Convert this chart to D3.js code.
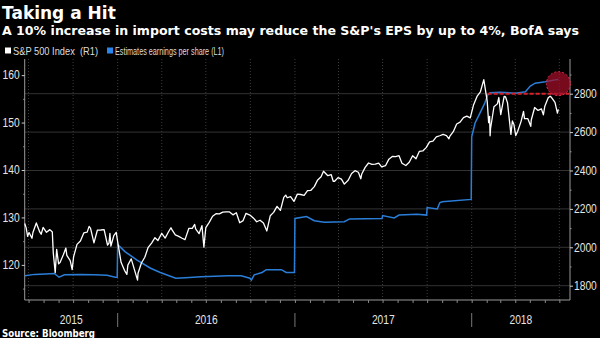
<!DOCTYPE html>
<html>
<head>
<meta charset="utf-8">
<script src="https://cdn.jsdelivr.net/npm/d3@7"></script>
<style>
  html, body { margin: 0; padding: 0; background: #000; }
  svg { display: block; }
</style>
</head>
<body>
<svg id="chart" width="600" height="338"></svg>
<script>
// S&P 500 closes (right axis)
const spx = [
  ["2015-06-23",2124],["2015-06-26",2101],["2015-06-29",2057],["2015-07-02",2077],["2015-07-08",2047],
  ["2015-07-10",2077],["2015-07-17",2127],["2015-07-24",2080],["2015-07-27",2068],["2015-07-31",2104],
  ["2015-08-07",2078],["2015-08-14",2092],["2015-08-19",2080],["2015-08-21",1971],["2015-08-25",1868],
  ["2015-08-28",1989],["2015-09-01",1914],["2015-09-04",1921],["2015-09-11",1962],["2015-09-16",1996],
  ["2015-09-18",1958],["2015-09-25",1931],["2015-09-29",1884],["2015-10-02",1951],["2015-10-09",2015],
  ["2015-10-16",2033],["2015-10-23",2075],["2015-10-30",2079],["2015-11-03",2109],["2015-11-06",2099],
  ["2015-11-13",2023],["2015-11-20",2089],["2015-11-27",2090],["2015-12-04",2092],["2015-12-11",2012],
  ["2015-12-14",2021],["2015-12-16",2073],["2015-12-18",2006],["2015-12-24",2061],["2015-12-29",2078],
  ["2015-12-31",2044],["2016-01-08",1922],["2016-01-15",1880],["2016-01-20",1859],["2016-01-22",1907],
  ["2016-01-29",1940],["2016-02-05",1880],["2016-02-11",1829],["2016-02-12",1865],["2016-02-19",1918],
  ["2016-02-26",1948],["2016-03-04",2000],["2016-03-11",2022],["2016-03-18",2050],["2016-03-24",2035],
  ["2016-04-01",2073],["2016-04-08",2048],["2016-04-15",2081],["2016-04-20",2102],["2016-04-22",2092],
  ["2016-04-29",2065],["2016-05-06",2057],["2016-05-13",2047],["2016-05-19",2040],["2016-05-27",2099],
  ["2016-06-03",2099],["2016-06-08",2119],["2016-06-10",2096],["2016-06-17",2071],["2016-06-23",2113],
  ["2016-06-27",2001],["2016-07-01",2103],["2016-07-08",2130],["2016-07-15",2162],["2016-07-22",2175],
  ["2016-07-29",2174],["2016-08-05",2183],["2016-08-12",2184],["2016-08-19",2184],["2016-08-26",2169],
  ["2016-09-02",2180],["2016-09-09",2128],["2016-09-16",2139],["2016-09-22",2177],["2016-09-30",2168],
  ["2016-10-07",2153],["2016-10-14",2133],["2016-10-21",2141],["2016-10-28",2126],["2016-11-04",2085],
  ["2016-11-11",2164],["2016-11-18",2182],["2016-11-25",2213],["2016-12-02",2192],["2016-12-09",2260],
  ["2016-12-13",2272],["2016-12-16",2258],["2016-12-23",2264],["2016-12-30",2239],["2017-01-06",2277],
  ["2017-01-13",2275],["2017-01-20",2271],["2017-01-27",2295],["2017-02-03",2297],["2017-02-10",2316],
  ["2017-02-17",2351],["2017-02-24",2367],["2017-03-01",2396],["2017-03-10",2373],["2017-03-17",2378],
  ["2017-03-21",2344],["2017-03-24",2344],["2017-03-31",2363],["2017-04-07",2355],["2017-04-13",2329],
  ["2017-04-21",2349],["2017-04-28",2384],["2017-05-05",2399],["2017-05-12",2391],["2017-05-17",2357],
  ["2017-05-19",2382],["2017-05-26",2416],["2017-06-02",2439],["2017-06-09",2432],["2017-06-16",2433],
  ["2017-06-23",2438],["2017-06-29",2419],["2017-07-07",2425],["2017-07-14",2459],["2017-07-21",2473],
  ["2017-07-28",2472],["2017-08-04",2477],["2017-08-10",2438],["2017-08-18",2426],["2017-08-25",2443],
  ["2017-09-01",2477],["2017-09-08",2461],["2017-09-15",2500],["2017-09-22",2502],["2017-09-29",2519],
  ["2017-10-06",2549],["2017-10-13",2553],["2017-10-20",2575],["2017-10-27",2581],["2017-11-03",2588],
  ["2017-11-10",2582],["2017-11-15",2565],["2017-11-17",2579],["2017-11-24",2602],["2017-12-01",2642],
  ["2017-12-08",2652],["2017-12-15",2675],["2017-12-22",2683],["2017-12-29",2674],["2018-01-05",2743],
  ["2018-01-12",2786],["2018-01-19",2810],["2018-01-26",2873],["2018-02-02",2762],["2018-02-05",2649],
  ["2018-02-07",2682],["2018-02-08",2581],["2018-02-09",2620],["2018-02-16",2732],["2018-02-23",2747],
  ["2018-02-26",2780],["2018-03-02",2691],["2018-03-09",2786],["2018-03-12",2783],["2018-03-16",2752],
  ["2018-03-23",2588],["2018-03-26",2658],["2018-03-29",2641],["2018-04-02",2582],["2018-04-06",2604],
  ["2018-04-13",2656],["2018-04-18",2708],["2018-04-20",2670],["2018-04-27",2670],["2018-05-03",2630],
  ["2018-05-04",2663],["2018-05-11",2728],["2018-05-18",2713],["2018-05-25",2721],["2018-05-29",2690],
  ["2018-06-01",2735],["2018-06-08",2779],["2018-06-12",2787],["2018-06-15",2780],["2018-06-22",2755],
  ["2018-06-27",2699],["2018-06-29",2718]
];

// Blended forward EPS estimate (left axis)
const eps = [
  ["2015-06-23",117.7],["2015-07-13",118.0],["2015-08-05",118.1],["2015-08-23",118.2],["2015-09-02",117.4],
  ["2015-09-13",117.9],["2015-10-15",118.0],["2015-11-13",117.9],["2015-12-10",117.8],["2015-12-27",117.4],
  ["2015-12-31",117.4],["2016-01-01",124.3],["2016-01-06",123.8],["2016-01-16",122.8],["2016-01-27",122.0],
  ["2016-02-10",121.0],["2016-03-09",119.3],["2016-03-29",118.4],["2016-04-30",117.2],["2016-05-20",117.3],
  ["2016-06-21",117.5],["2016-07-20",117.6],["2016-08-15",117.7],["2016-09-12",117.7],["2016-09-30",117.2],
  ["2016-10-03",116.8],["2016-10-09",117.9],["2016-10-25",118.4],["2016-11-03",119.0],["2016-12-04",119.0],
  ["2016-12-14",118.4],["2016-12-31",118.4],["2017-01-01",129.8],["2017-01-25",130.2],["2017-02-10",129.3],
  ["2017-03-03",129.0],["2017-04-13",129.1],["2017-04-24",129.7],["2017-06-30",129.8],["2017-07-01",130.4],
  ["2017-07-25",129.9],["2017-08-04",130.5],["2017-09-10",130.7],["2017-09-30",130.5],["2017-10-01",132.1],
  ["2017-10-22",131.8],["2017-10-27",133.1],["2017-11-01",133.3],["2017-12-31",133.8],["2018-01-01",147.0],
  ["2018-01-08",149.9],["2018-01-18",152.0],["2018-01-28",154.1],["2018-02-03",155.8],["2018-02-08",156.3],
  ["2018-03-01",156.4],["2018-04-01",156.2],["2018-04-22",156.5],["2018-05-02",157.7],["2018-05-12",158.3],
  ["2018-06-02",158.6],["2018-06-22",159.0],["2018-06-29",159.1]
];

const leftTicks = [120, 130, 140, 150, 160];
const leftMinor = [115, 125, 135, 145, 155];
const rightTicks = [1800, 2000, 2200, 2400, 2600, 2800];
const rightMinor = [1900, 2100, 2300, 2500, 2700, 2900];
const years = [2015, 2016, 2017, 2018];

// 4% cut marker on the EPS line and the highlight circle
const cutLevel = 156.1;
const cutFrom = "2018-02-03";
const circleAt = ["2018-06-29", 158.2];

const parse = d3.timeParse("%Y-%m-%d");
const W = 600, H = 338;
const L = 24.7, R = 570, T = 59, B = 300;
const FONT = "Liberation Sans, Arial, sans-serif";
const BOLD = "DejaVu Sans, sans-serif";
const CHAR = 5.7; // narrow label glyph width

const x = d3.scaleTime().domain([parse("2015-06-23"), parse("2018-07-23")]).range([L, R]);
const yL = d3.scaleLinear().domain([112.6, 163.4]).range([B, T]);
const yR = d3.scaleLinear().domain([1725.5, 2980.7]).range([B, T]);

const svg = d3.select("#chart");
svg.append("rect").attr("width", W).attr("height", H).attr("fill", "#000");

// titles
svg.append("text").attr("x", 2).attr("y", 18.5)
  .attr("font-family", BOLD).attr("font-weight", "bold")
  .attr("font-size", 17).attr("fill", "#fff").text("Taking a Hit");
svg.append("text").attr("x", 2).attr("y", 34.5)
  .attr("font-family", BOLD).attr("font-weight", "bold")
  .attr("font-size", 13).attr("fill", "#fff")
  .attr("textLength", 577).attr("lengthAdjust", "spacingAndGlyphs")
  .text("A 10% increase in import costs may reduce the S&P's EPS by up to 4%, BofA says");

// legend
const lg = svg.append("g").attr("font-family", FONT).attr("font-size", 11).attr("fill", "#ddd");
lg.append("rect").attr("x", 5).attr("y", 47.5).attr("width", 6).attr("height", 6).attr("fill", "#fff");
lg.append("text").attr("x", 13).attr("y", 54.5).attr("textLength", 85).attr("lengthAdjust", "spacingAndGlyphs")
  .attr("xml:space", "preserve").text("S&P 500 Index  (R1)");
lg.append("rect").attr("x", 107).attr("y", 47.5).attr("width", 6).attr("height", 6).attr("fill", "#2a86ec");
lg.append("text").attr("x", 115).attr("y", 54.5).attr("textLength", 109).attr("lengthAdjust", "spacingAndGlyphs")
  .text("Estimates earnings per share (L1)");

// grid
const grid = svg.append("g");
grid.selectAll("line.h").data(rightTicks).join("line")
  .attr("x1", L).attr("x2", R).attr("y1", d => yR(d)).attr("y2", d => yR(d))
  .attr("stroke", "#333").attr("stroke-width", 1);
const quarters = d3.timeMonth.every(3).range(x.domain()[0], x.domain()[1]);
grid.selectAll("line.v").data(quarters).join("line")
  .attr("x1", d => x(d)).attr("x2", d => x(d)).attr("y1", T).attr("y2", B)
  .attr("stroke", "#3c3c3c").attr("stroke-width", 1).attr("stroke-dasharray", "1,2");

// axes
function styleAxis(g) {
  g.select(".domain").attr("stroke", "#999");
  g.selectAll(".tick line").attr("stroke", "#ccc");
  g.selectAll(".tick text").attr("fill", "#e6e6e6").attr("font-size", 12).attr("font-family", FONT)
    .attr("textLength", function () { return this.textContent.length * CHAR; })
    .attr("lengthAdjust", "spacingAndGlyphs");
}

svg.append("g").attr("transform", `translate(${L},0)`)
  .call(d3.axisLeft(yL).tickValues(leftTicks).tickSize(3).tickPadding(2).tickSizeOuter(0))
  .call(styleAxis)
  .call(g => g.select(".domain").attr("d", `M0,${T}V${B}`));
svg.append("g").attr("transform", `translate(${L},0)`)
  .call(d3.axisLeft(yL).tickValues(leftMinor).tickSize(1.5).tickFormat(""))
  .call(g => g.select(".domain").remove())
  .call(g => g.selectAll(".tick line").attr("stroke", "#999"));

svg.append("g").attr("transform", `translate(${R},0)`)
  .call(d3.axisRight(yR).tickValues(rightTicks).tickFormat(d3.format("d")).tickSize(3).tickPadding(1).tickSizeOuter(0))
  .call(styleAxis)
  .call(g => g.select(".domain").attr("d", `M0,${T}V${B}`));
svg.append("g").attr("transform", `translate(${R},0)`)
  .call(d3.axisRight(yR).tickValues(rightMinor).tickSize(1.5).tickFormat(""))
  .call(g => g.select(".domain").remove())
  .call(g => g.selectAll(".tick line").attr("stroke", "#999"));

svg.append("g").attr("transform", `translate(0,${B})`)
  .call(d3.axisBottom(x).ticks(d3.timeMonth.every(1)).tickSize(3).tickFormat("").tickSizeOuter(0))
  .call(g => g.select(".domain").attr("stroke", "#999").attr("d", `M${L},0H${R}`))
  .call(g => g.selectAll(".tick line").attr("stroke", "#888"));

// year labels and separators
const [d0, d1] = x.domain();
svg.append("g").selectAll("line").data(years.slice(1)).join("line")
  .attr("x1", d => x(new Date(d, 0, 1))).attr("x2", d => x(new Date(d, 0, 1)))
  .attr("y1", 313).attr("y2", 327).attr("stroke", "#777");
svg.append("g").selectAll("text").data(years).join("text")
  .attr("x", d => {
    const a = Math.max(+new Date(d, 0, 1), +d0), b = Math.min(+new Date(d + 1, 0, 1), +d1);
    return (x(new Date(a)) + x(new Date(b))) / 2;
  })
  .attr("y", 323.5).attr("text-anchor", "middle")
  .attr("font-family", FONT).attr("font-size", 12).attr("fill", "#e6e6e6")
  .attr("textLength", 4 * CHAR).attr("lengthAdjust", "spacingAndGlyphs")
  .text(d => d);

// series
const plot = svg.append("g");
plot.append("path").datum(eps)
  .attr("fill", "none").attr("stroke", "#2a7ed8").attr("stroke-width", 1.5)
  .attr("d", d3.line().x(d => x(parse(d[0]))).y(d => yL(d[1])));
plot.append("path").datum(spx)
  .attr("fill", "none").attr("stroke", "#fff").attr("stroke-width", 1.3).attr("stroke-linejoin", "round")
  .attr("d", d3.line().x(d => x(parse(d[0]))).y(d => yR(d[1])));

// annotation
plot.append("line")
  .attr("x1", x(parse(cutFrom))).attr("x2", R - 1)
  .attr("y1", yL(cutLevel)).attr("y2", yL(cutLevel))
  .attr("stroke", "#d8202c").attr("stroke-width", 2).attr("stroke-dasharray", "4,2");
plot.append("circle")
  .attr("cx", x(parse(circleAt[0]))).attr("cy", yL(circleAt[1])).attr("r", 12)
  .attr("fill", "rgba(170,16,42,0.7)").attr("stroke", "#d83050").attr("stroke-width", 1)
  .attr("stroke-dasharray", "2,2");

// source
svg.append("text").attr("x", 2).attr("y", 336.5)
  .attr("font-family", BOLD).attr("font-weight", "bold")
  .attr("font-size", 10).attr("fill", "#fff")
  .attr("textLength", 93).attr("lengthAdjust", "spacingAndGlyphs")
  .text("Source: Bloomberg");
</script>
</body>
</html>
